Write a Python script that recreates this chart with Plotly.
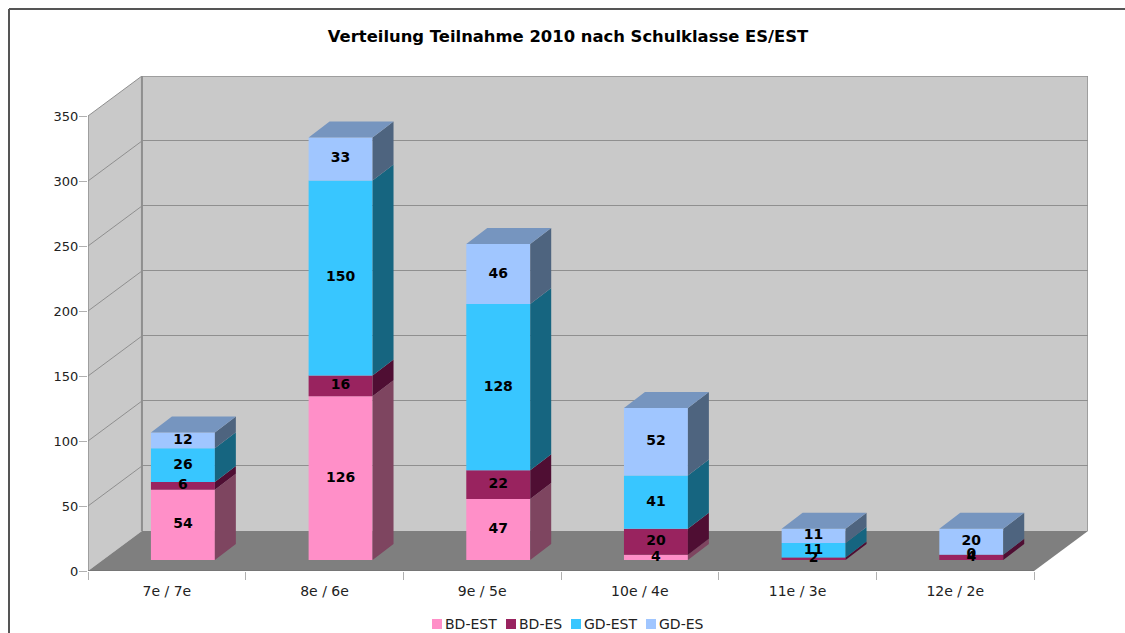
import plotly.graph_objects as go

# ---- data ----
categories = ["7e / 7e", "8e / 6e", "9e / 5e", "10e / 4e", "11e / 3e", "12e / 2e"]
bd_est = [54, 126, 47, 4, 0, 0]
bd_es = [6, 16, 22, 20, 2, 4]
gd_est = [26, 150, 128, 41, 11, 0]
gd_es = [12, 33, 46, 52, 11, 20]
series_names = ["BD-EST", "BD-ES", "GD-EST", "GD-ES"]
y_ticks = [0, 50, 100, 150, 200, 250, 300, 350]
title_text = "Verteilung Teilnahme 2010 nach Schulklasse ES/EST"

# ---- style ----
W, H = 1125, 633
L, R, T, B = 88, 1088, 76, 571           # plot rectangle in pixels
PX_X = (1035 - 88) / 6                   # pixels per category
PX_Y = (571 - 116) / 350                 # pixels per unit
DX = 54 / PX_X                           # chart depth on x
DY = 40 / PX_Y                           # chart depth on y
BAR_W = 64 / PX_X
BAR_OFF_X = 95 / PX_X                    # bar centre from category start
BAR_BASE = 11 / PX_Y                     # bar base lift (depth position)
BAR_DX = 21 / PX_X                       # bar depth
BAR_DY = 16 / PX_Y
FRONT = ["#FF8FC8", "#99235F", "#38C6FF", "#A0C6FF"]
SIDE = ["#7E4560", "#4F0E33", "#166580", "#4E647F"]
TOP = "#7695BF"
WALL, FLOOR, GRID = "#C9C9C9", "#7F7F7F", "#8F8F8F"
FONT = "DejaVu Sans"
SNAP = 0.5 / PX_Y                        # half a pixel, keeps 1px grid lines crisp

series = [bd_est, bd_es, gd_est, gd_es]
n = len(categories)
centers = [i + BAR_OFF_X for i in range(n)]

fig = go.Figure()

# stacked front faces, side faces, top faces, labels
bases = [BAR_BASE] * n
for s, values in enumerate(series):
    fig.add_trace(go.Bar(x=centers, y=values, base=list(bases), width=BAR_W, name=series_names[s],
                         marker=dict(color=FRONT[s], line=dict(width=0)), showlegend=False, hoverinfo="skip"))
    sx, sy = [], []
    for i in range(n):
        xr = centers[i] + BAR_W / 2
        y0, y1 = bases[i], bases[i] + values[i]
        sx += [xr, xr + BAR_DX, xr + BAR_DX, xr, xr, None]
        sy += [y0, y0 + BAR_DY, y1 + BAR_DY, y1, y0, None]
    fig.add_trace(go.Scatter(x=sx, y=sy, mode="lines", fill="toself", fillcolor=SIDE[s],
                             line=dict(width=0, color=SIDE[s]), showlegend=False, hoverinfo="skip"))
    bases = [b + v for b, v in zip(bases, values)]

tx, ty = [], []
for i in range(n):
    xl, xr = centers[i] - BAR_W / 2, centers[i] + BAR_W / 2
    tx += [xl, xr, xr + BAR_DX, xl + BAR_DX, xl, None]
    ty += [bases[i], bases[i], bases[i] + BAR_DY, bases[i] + BAR_DY, bases[i], None]
fig.add_trace(go.Scatter(x=tx, y=ty, mode="lines", fill="toself", fillcolor=TOP,
                         line=dict(width=0, color=TOP), showlegend=False, hoverinfo="skip"))

bases = [BAR_BASE] * n
for s, values in enumerate(series):
    mids = [b + v / 2 for b, v in zip(bases, values)]
    labels = [str(v) if (v > 0 or s > 0) else "" for v in values]
    fig.add_trace(go.Scatter(x=centers, y=mids, mode="text", text=labels, textposition="middle center",
                             textfont=dict(family=FONT, size=14, color="#000000", weight="bold"),
                             showlegend=False, hoverinfo="skip", cliponaxis=False))
    bases = [b + v for b, v in zip(bases, values)]

# walls, floor, grid
shapes = []
def poly(xs, ys, fill, line=None, width=0, layer="below"):
    path = "M " + " L ".join(f"{x},{y}" for x, y in zip(xs, ys)) + " Z"
    shapes.append(dict(type="path", path=path, xref="x", yref="y", fillcolor=fill, layer=layer,
                       line=dict(color=line or fill, width=width)))
def seg(x0, y0, x1, y1, color=GRID, width=1):
    shapes.append(dict(type="line", xref="x", yref="y", x0=x0, y0=y0, x1=x1, y1=y1, layer="below",
                       line=dict(color=color, width=width)))

ymax = y_ticks[-1]
poly([DX, n + DX, n + DX, DX], [DY, DY, ymax + DY, ymax + DY], WALL)
poly([0, DX, DX, 0], [0, DY, ymax + DY, ymax], WALL)
poly([0, n, n + DX, DX], [0, 0, DY, DY], FLOOR)
for t in y_ticks[1:]:
    seg(0, t, DX, t + DY)
    seg(DX, t + DY + SNAP, n + DX, t + DY + SNAP)
seg(DX, DY, DX, ymax + DY, width=2)
seg(n + DX, DY, n + DX, ymax + DY, width=1.5)
seg(DX, ymax + DY, n + DX, ymax + DY, width=1.5)
seg(0, 0, 0, ymax, width=1.5)
seg(0, 0, n, 0, color="#6E6E6E", width=1)

# outer frame (paper coordinates)
def px(x): return (x - L) / (R - L)
def py(y): return (B - y) / (B - T)
for x0, y0, x1, y1 in [(9, 9, W, 9), (9, 9, 9, H)]:
    shapes.append(dict(type="line", xref="paper", yref="paper", x0=px(x0), y0=py(y0), x1=px(x1), y1=py(y1),
                       line=dict(color="#555555", width=2)))

# legend
annotations = []
leg_x = [432, 506, 571, 646]
leg_y = 624
for name, color, x in zip(series_names, FRONT, leg_x):
    shapes.append(dict(type="rect", xref="paper", yref="paper", x0=px(x), x1=px(x + 10),
                       y0=py(leg_y + 5), y1=py(leg_y - 5), fillcolor=color, line=dict(width=0)))
    annotations.append(dict(xref="paper", yref="paper", x=px(x + 11), y=py(leg_y), text=name, showarrow=False,
                            xanchor="left", yanchor="middle", font=dict(family=FONT, size=14, color="#222222")))

fig.update_layout(
    width=W, height=H, autosize=False,
    margin=dict(l=L, r=W - R, t=T, b=H - B, pad=0),
    paper_bgcolor="#FFFFFF", plot_bgcolor="rgba(0,0,0,0)",
    barmode="overlay", showlegend=False,
    title=dict(text=title_text, x=568 / W, xref="container", xanchor="center", y=1 - 36 / H, yref="container",
               yanchor="middle", font=dict(family=FONT, size=16.4, color="#000000", weight="bold")),
    shapes=shapes, annotations=annotations,
    xaxis=dict(range=[0, n + DX], showgrid=False, zeroline=False, showline=False,
               tickmode="array", tickvals=[i + 0.5 for i in range(n)], ticktext=categories,
               ticks="outside", ticklen=8, tickcolor="rgba(0,0,0,0)", ticklabelstandoff=-1,
               tickfont=dict(family=FONT, size=14, color="#222222"),
               minor=dict(tickmode="array", tickvals=list(range(n + 1)), ticks="outside", ticklen=8,
                          tickcolor="#B0B0B0", tickwidth=1, showgrid=False)),
    yaxis=dict(range=[0, ymax + DY], showgrid=False, zeroline=False, showline=False,
               tickmode="array", tickvals=y_ticks, ticks="outside", ticklen=8, tickcolor="#B0B0B0",
               ticklabelstandoff=-2,
               tickfont=dict(family=FONT, size=13, color="#222222")),
)
fig.write_html("out.html", config=dict(displayModeBar=False),
               post_script="document.body.style.margin='0';document.documentElement.style.overflow='hidden';")
